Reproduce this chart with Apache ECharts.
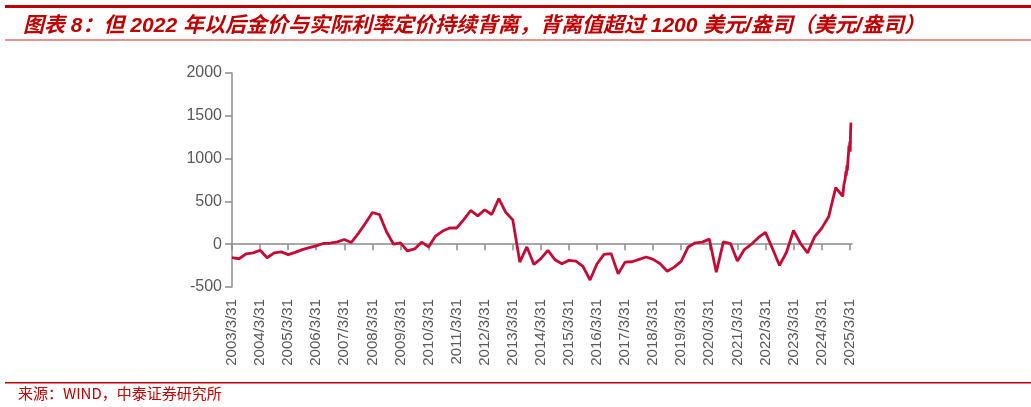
<!DOCTYPE html>
<html>
<head>
<meta charset="utf-8">
<script src="https://cdn.jsdelivr.net/npm/echarts@6/dist/echarts.min.js"></script>
<style>
html,body{margin:0;padding:0;background:#fff;}
#chart{width:1031px;height:407px;}
</style>
</head>
<body>
<div id="chart"></div>
<script>
// Quarter-end dates 2003Q1..2024Q4, then 2025 observations
const dates = [
  '2003-03-31','2003-06-30','2003-09-30','2003-12-31',
  '2004-03-31','2004-06-30','2004-09-30','2004-12-31',
  '2005-03-31','2005-06-30','2005-09-30','2005-12-31',
  '2006-03-31','2006-06-30','2006-09-30','2006-12-31',
  '2007-03-31','2007-06-30','2007-09-30','2007-12-31',
  '2008-03-31','2008-06-30','2008-09-30','2008-12-31',
  '2009-03-31','2009-06-30','2009-09-30','2009-12-31',
  '2010-03-31','2010-06-30','2010-09-30','2010-12-31',
  '2011-03-31','2011-06-30','2011-09-30','2011-12-31',
  '2012-03-31','2012-06-30','2012-09-30','2012-12-31',
  '2013-03-31','2013-06-30','2013-09-30','2013-12-31',
  '2014-03-31','2014-06-30','2014-09-30','2014-12-31',
  '2015-03-31','2015-06-30','2015-09-30','2015-12-31',
  '2016-03-31','2016-06-30','2016-09-30','2016-12-31',
  '2017-03-31','2017-06-30','2017-09-30','2017-12-31',
  '2018-03-31','2018-06-30','2018-09-30','2018-12-31',
  '2019-03-31','2019-06-30','2019-09-30','2019-12-31',
  '2020-03-31','2020-06-30','2020-09-30','2020-12-31',
  '2021-03-31','2021-06-30','2021-09-30','2021-12-31',
  '2022-03-31','2022-06-30','2022-09-30','2022-12-31',
  '2023-03-31','2023-06-30','2023-09-30','2023-12-31',
  '2024-03-31','2024-06-30','2024-09-30','2024-12-31',
  '2025-01-15','2025-01-31','2025-02-10','2025-02-14','2025-02-24','2025-02-28',
  '2025-03-10','2025-03-17','2025-03-21','2025-03-28','2025-04-02','2025-04-07',
  '2025-04-11','2025-04-16'
];
const divergence = [
  -158,-170,-114,-102,
  -71,-158,-102,-90,
  -122,-95,-63,-40,
  -20,8,12,28,
  55,20,126,244,
  370,347,146,0,
  16,-79,-55,24,
  -32,95,154,189,
  189,284,394,331,
  402,347,532,370,
  284,-209,-32,-236,
  -169,-71,-181,-228,
  -189,-197,-260,-418,
  -228,-118,-110,-347,
  -209,-205,-177,-150,
  -177,-228,-315,-268,
  -201,-32,16,24,
  59,-327,28,8,
  -197,-63,0,79,
  138,-51,-248,-91,
  162,8,-102,87,
  185,320,660,560,
  700,760,850,800,920,860,
  1000,1080,1150,1110,1200,1080,
  1300,1420
];
const tickYears = [2003,2004,2005,2006,2007,2008,2009,2010,2011,2012,2013,2014,2015,2016,2017,2018,2019,2020,2021,2022,2023,2024,2025];

function ms(s){ const p=s.split('-').map(Number); return Date.UTC(p[0],p[1]-1,p[2]); }
const seriesData = dates.map((d,i)=>[ms(d), divergence[i]]);
const tickVals = tickYears.map(y=>Date.UTC(y,2,31));
const xMin = Date.UTC(2003,2,31);
const xMax = Date.UTC(2025,3,30);

const axisGray = '#8C8C8C';
const labelGray = '#595959';
const red = '#C00000';

const chart = echarts.init(document.getElementById('chart'), null, {renderer:'canvas'});
chart.setOption({
  animation:false,
  backgroundColor:'#fff',
  title:{
    text:'图表 8：但 2022 年以后金价与实际利率定价持续背离，背离值超过 1200 美元/盎司（美元/盎司）',
    left:18, top:11,
    textStyle:{color:red, fontSize:21, fontStyle:'italic', fontWeight:'bold',
      fontFamily:"'Liberation Sans','Noto Sans CJK SC',sans-serif"}
  },
  graphic:[
    {type:'rect', shape:{x:5,y:5,width:1026,height:3}, style:{fill:red}, silent:true},
    {type:'rect', shape:{x:5,y:39,width:1026,height:2}, style:{fill:'#E29595'}, silent:true},
    {type:'rect', shape:{x:5,y:382,width:1026,height:1.5}, style:{fill:red}, silent:true},
    {type:'text', left:18, top:386, style:{text:'来源：WIND，中泰证券研究所', fill:red, fontSize:15,
      fontFamily:"'Noto Sans CJK SC',sans-serif"}, silent:true}
  ],
  grid:{left:232, right:179, top:73, bottom:120},
  xAxis:[
    {
      type:'value', min:xMin, max:xMax,
      axisLine:{show:false, onZero:false},
      axisTick:{show:false},
      splitLine:{show:false},
      axisLabel:{
        customValues:tickVals,
        rotate:90, margin:12,
        color:labelGray, fontSize:15,
        fontFamily:"'Liberation Sans',Arial,sans-serif",
        formatter:function(v){ const d=new Date(v); return d.getUTCFullYear()+'/'+(d.getUTCMonth()+1)+'/'+d.getUTCDate(); }
      }
    },
    {
      type:'value', min:xMin, max:xMax, position:'bottom',
      axisLine:{show:true, onZero:true, lineStyle:{color:axisGray, width:1.5}},
      axisTick:{show:true, customValues:tickVals, length:6, inside:false, lineStyle:{color:axisGray, width:1.5}},
      axisLabel:{show:false},
      splitLine:{show:false}
    }
  ],
  yAxis:{
    type:'value', min:-500, max:2000, interval:500,
    axisLine:{show:true, lineStyle:{color:axisGray, width:1.5}},
    axisTick:{show:true, length:7, lineStyle:{color:axisGray, width:1.5}},
    splitLine:{show:false},
    axisLabel:{color:labelGray, fontSize:16, margin:10,
      fontFamily:"'Liberation Sans',Arial,sans-serif",
      formatter:function(v){ return String(v); }}
  },
  series:[{
    type:'line', xAxisIndex:0, data:seriesData,
    showSymbol:false, symbol:'none',
    lineStyle:{color:'#C40A35', width:2.8},
    z:5
  }]
});
</script>
</body>
</html>
